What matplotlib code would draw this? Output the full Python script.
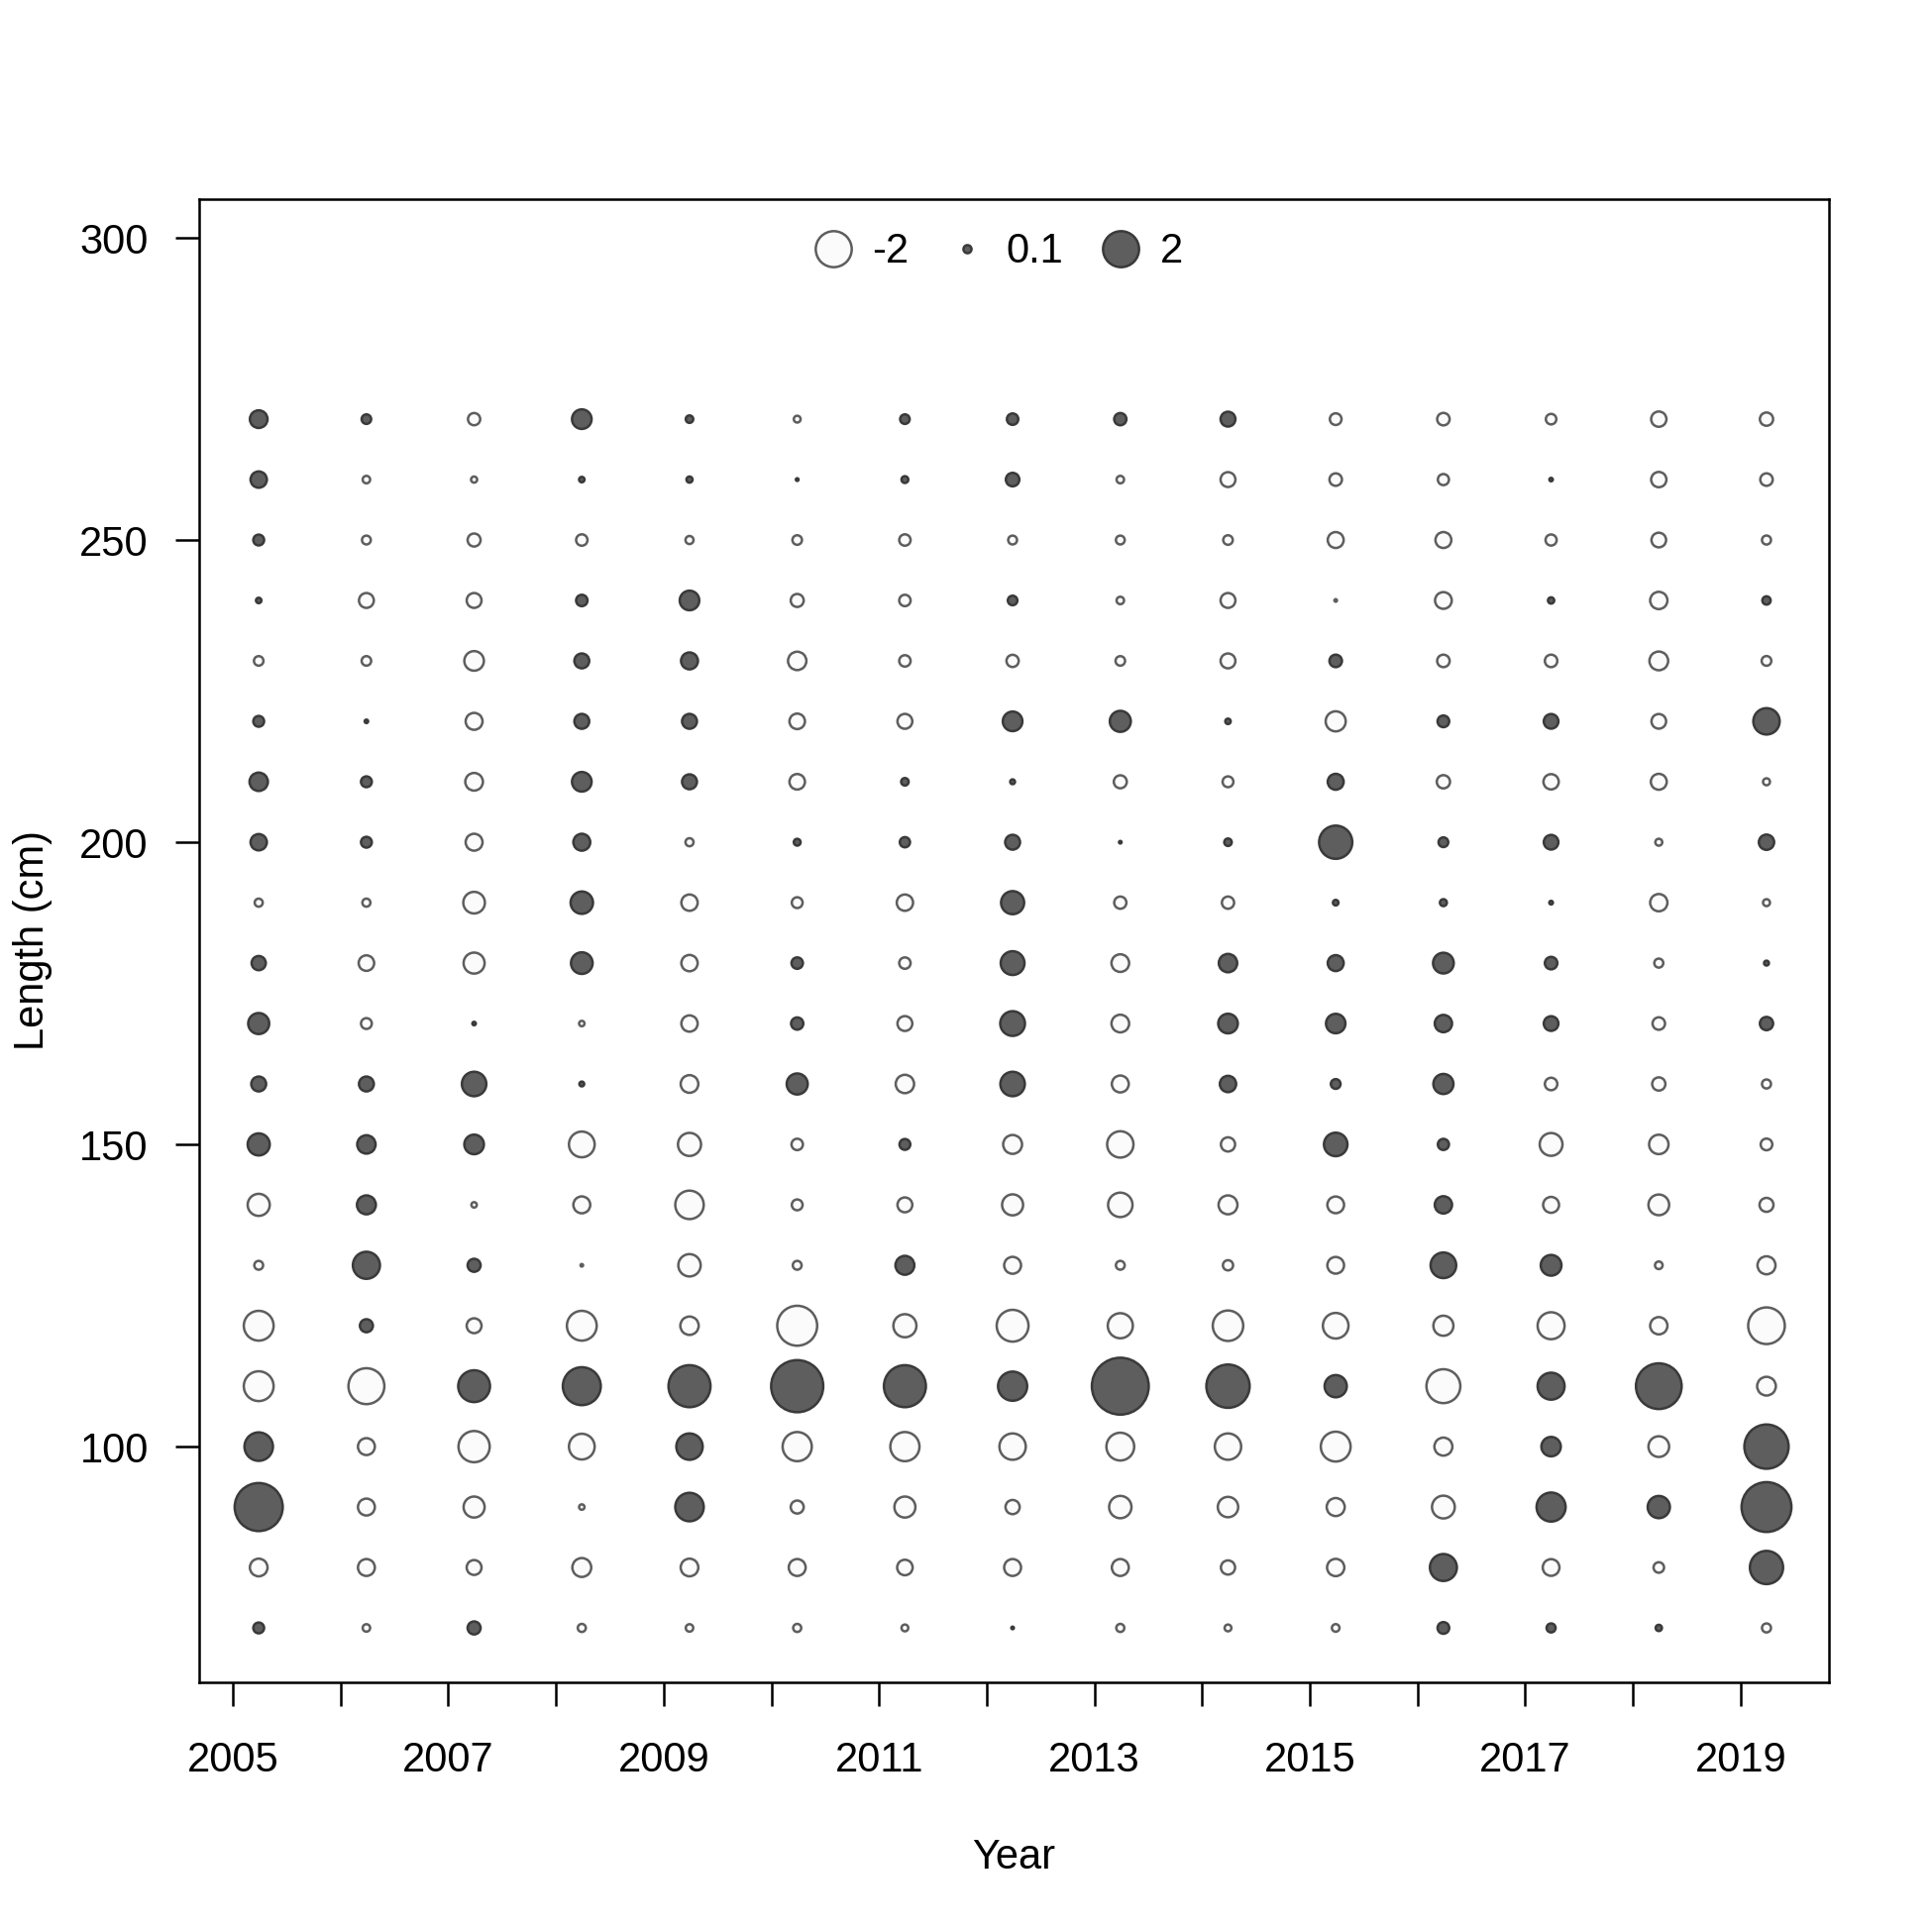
import matplotlib
matplotlib.use("Agg")
import matplotlib.pyplot as plt
from matplotlib.lines import Line2D
import numpy as np

plt.rcParams['font.family'] = ['Liberation Sans', 'DejaVu Sans']
plt.rcParams['font.size'] = 10

# length bins (cm), bottom to top
lengths = [70, 80, 90, 100, 110, 120, 130, 140, 150, 160, 170,
           180, 190, 200, 210, 220, 230, 240, 250, 260, 270]
years = list(range(2005, 2020))

# Pearson residuals per year, in the order of `lengths`
r2005 = [0.18, -0.48, 3.56, 1.25, -1.37, -1.37, -0.12, -0.75, 0.75, 0.34, 0.68,
         0.31, -0.10, 0.41, 0.52, 0.18, -0.14, 0.045, 0.18, 0.41, 0.48]
r2006 = [-0.086, -0.44, -0.44, -0.44, -1.99, 0.26, 1.13, 0.55, 0.52, 0.34, -0.18,
         -0.37, -0.10, 0.18, 0.18, 0.018, -0.14, -0.34, -0.12, -0.086, 0.14]
r2007 = [0.26, -0.34, -0.68, -1.50, 1.56, -0.34, 0.26, -0.045, 0.59, 0.92, 0.018,
         -0.68, -0.72, -0.44, -0.48, -0.44, -0.59, -0.34, -0.26, -0.057, -0.23]
r2008 = [-0.10, -0.55, -0.045, -1.02, 2.22, -1.37, -0.01, -0.44, -1.02, 0.035, -0.045,
         0.72, 0.77, 0.44, 0.59, 0.34, 0.34, 0.20, -0.20, 0.045, 0.59]
r2009 = [-0.086, -0.48, 1.25, 1.07, 2.72, -0.52, -0.77, -1.25, -0.82, -0.48, -0.41,
         -0.41, -0.41, -0.10, 0.34, 0.34, 0.44, 0.59, -0.10, 0.057, 0.086]
r2010 = [-0.10, -0.44, -0.26, -1.31, 4.19, -2.46, -0.12, -0.18, -0.20, 0.68, 0.23,
         0.20, -0.18, 0.071, -0.37, -0.37, -0.52, -0.26, -0.14, 0.011, -0.071]
r2011 = [-0.071, -0.37, -0.68, -1.31, 2.72, -0.82, 0.55, -0.34, 0.18, -0.52, -0.34,
         -0.20, -0.41, 0.16, 0.086, -0.34, -0.20, -0.20, -0.20, 0.071, 0.14]
r2012 = [0.01, -0.44, -0.31, -1.07, 1.31, -1.56, -0.44, -0.68, -0.55, 0.92, 0.94,
         0.87, 0.82, 0.34, 0.035, 0.59, -0.23, 0.14, -0.12, 0.28, 0.20]
r2013 = [-0.10, -0.44, -0.77, -1.19, 4.99, -0.97, -0.12, -0.92, -1.07, -0.44, -0.48,
         -0.48, -0.23, 0.01, -0.26, 0.68, -0.14, -0.086, -0.12, -0.086, 0.23]
r2014 = [-0.071, -0.31, -0.64, -1.07, 2.89, -1.43, -0.16, -0.55, -0.31, 0.41, 0.59,
         0.52, -0.23, 0.086, -0.18, 0.045, -0.34, -0.34, -0.14, -0.34, 0.34]
r2015 = [-0.089, -0.46, -0.50, -1.37, 0.76, -1.01, -0.43, -0.43, 0.85, 0.145, 0.58,
         0.39, 0.047, 1.70, 0.39, -0.62, 0.24, -0.01, -0.39, -0.24, -0.21]
r2016 = [0.21, 1.12, -0.80, -0.50, -1.77, -0.62, 1.01, 0.46, 0.19, 0.62, 0.46,
         0.66, 0.074, 0.145, -0.27, 0.21, -0.24, -0.43, -0.39, -0.19, -0.24]
r2017 = [0.125, -0.43, 1.30, 0.58, 1.12, -1.12, 0.66, -0.39, -0.80, -0.24, 0.33,
         0.24, 0.02, 0.33, -0.36, 0.33, -0.24, 0.06, -0.19, 0.018, -0.17]
r2018 = [0.06, -0.17, 0.76, -0.66, 3.22, -0.46, -0.089, -0.66, -0.58, -0.27, -0.24,
         -0.125, -0.46, -0.074, -0.39, -0.33, -0.54, -0.46, -0.33, -0.36, -0.36]
r2019 = [-0.125, 1.70, 3.83, 3.02, -0.54, -2.07, -0.50, -0.30, -0.21, -0.125, 0.27,
         0.036, -0.074, 0.36, -0.074, 1.07, -0.145, 0.106, -0.125, -0.24, -0.27]

resid_by_year = [r2005, r2006, r2007, r2008, r2009, r2010, r2011, r2012,
                 r2013, r2014, r2015, r2016, r2017, r2018, r2019]

x_offset = 0.24
size_scale = 38.0          # marker area (pt^2) per unit of |residual|
pos_face, pos_edge = '#5e5e5e', '#3a3a3a'
neg_face, neg_edge = '#fbfbfb', '#5e5e5e'
lw = 0.6

fig = plt.figure(figsize=(6.5, 6.5), dpi=300)
ax = fig.add_axes([201/1950, 1 - 1698/1950, (1846 - 201)/1950, (1698 - 201)/1950])

xs, ys, zs = [], [], []
for yr, res in zip(years, resid_by_year):
    for L, z in zip(lengths, res):
        xs.append(yr + x_offset)
        ys.append(L)
        zs.append(z)
xs = np.array(xs); ys = np.array(ys); zs = np.array(zs)

neg = zs < 0
ax.scatter(xs[neg], ys[neg], s=size_scale * np.abs(zs[neg]),
           facecolor=neg_face, edgecolor=neg_edge, linewidth=lw, zorder=3)
ax.scatter(xs[~neg], ys[~neg], s=size_scale * np.abs(zs[~neg]),
           facecolor=pos_face, edgecolor=pos_edge, linewidth=lw, zorder=3)

ax.set_xlim(2004.687, 2019.82)
ax.set_ylim(61.0, 306.4)

ax.set_xticks(years)
ax.set_xticklabels([str(y) if y % 2 == 1 else '' for y in years])
ax.set_yticks([100, 150, 200, 250, 300])

for sp in ax.spines.values():
    sp.set_linewidth(0.6)
ax.tick_params(axis='both', direction='out', length=5.8, width=0.6, labelsize=10)
ax.tick_params(axis='x', pad=8.3)
ax.tick_params(axis='y', pad=6.5)

ax.set_xlabel('Year', fontsize=10, labelpad=14)
ax.set_ylabel('Length (cm)', fontsize=10, labelpad=6.5)

leg_vals = [-2, 0.1, 2]
handles = []
for v in leg_vals:
    face, edge = (neg_face, neg_edge) if v < 0 else (pos_face, pos_edge)
    handles.append(Line2D([], [], linestyle='none', marker='o',
                          markersize=np.sqrt(size_scale * abs(v)),
                          markerfacecolor=face, markeredgecolor=edge,
                          markeredgewidth=lw))
ax.legend(handles, [str(v) for v in leg_vals], loc='upper center', ncol=3,
          frameon=False, handlelength=1.0, handletextpad=0.45,
          columnspacing=0.9, fontsize=10, borderaxespad=0.4,
          bbox_to_anchor=(0.49, 1.0))

fig.savefig('out.png', dpi=300)
